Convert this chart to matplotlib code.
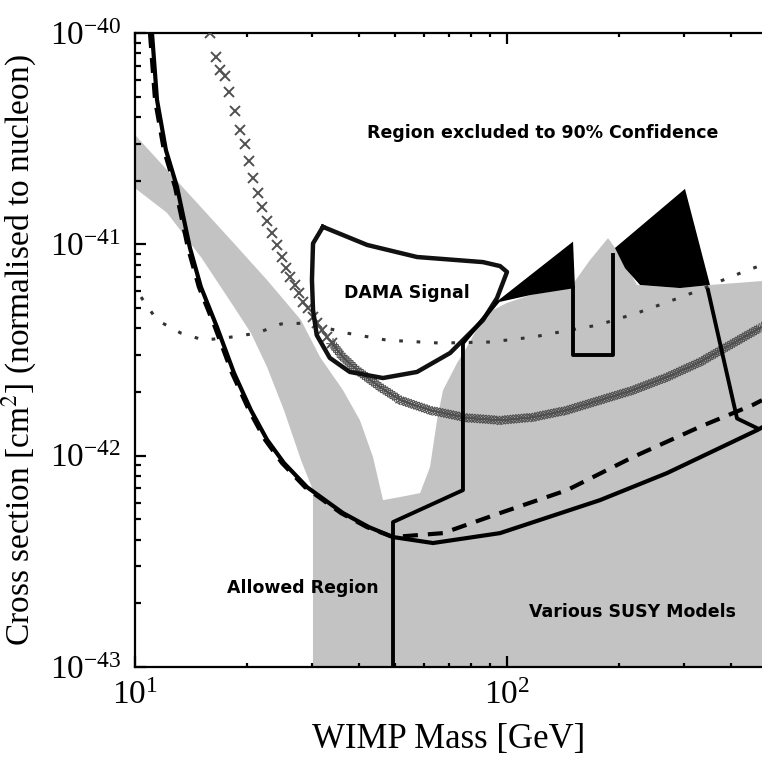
import matplotlib
matplotlib.use('Agg')
import matplotlib.pyplot as plt
import matplotlib.patheffects as pe

plt.rcParams['font.family'] = ['Liberation Serif', 'DejaVu Serif']
plt.rcParams['mathtext.fontset'] = 'stix'

# WIMP mass in GeV, cross section in cm^2 (normalised to nucleon)

# solid exclusion limit
limit_mass = [11.11, 11.46, 12.11, 12.97, 14.05, 15.04, 16.61, 18.46, 20.50, 22.64,
              25.15, 29.00, 36.24, 42.56, 49.38, 63.25, 95.76, 177.8, 269.2, 470.0, 484.7]
limit_xsec = [1.0e-40, 4.82e-41, 2.79e-41, 1.87e-41, 9.61e-42, 6.28e-42, 4.06e-42, 2.46e-42,
              1.64e-42, 1.19e-42, 9.23e-43, 7.10e-43, 5.35e-43, 4.59e-43, 4.12e-43, 3.86e-43,
              4.30e-43, 6.16e-43, 8.27e-43, 1.32e-42, 1.36e-42]

# dashed exclusion limit
dashed_mass = [10.97, 11.32, 11.96, 12.81, 13.88, 14.85, 16.40, 18.23, 20.25, 22.36,
               24.84, 28.64, 35.79, 42.03, 49.38, 67.29, 95.76, 145.0, 218.1, 330.3, 458.5, 484.7]
dashed_xsec = [1.0e-40, 4.82e-41, 2.79e-41, 1.87e-41, 9.61e-42, 6.28e-42, 4.06e-42, 2.46e-42,
               1.64e-42, 1.19e-42, 9.23e-43, 7.10e-43, 5.35e-43, 4.59e-43, 4.12e-43, 4.30e-43,
               5.35e-43, 6.87e-43, 9.85e-43, 1.37e-42, 1.74e-42, 1.83e-42]

# dotted limit
dotted_mass = [10.38, 11.46, 13.29, 15.33, 18.12, 21.28, 24.69, 29.00, 37.15, 47.58, 66.06,
               90.0, 117.5, 138.8, 175.6, 223.7, 279.4, 330.3, 380.7, 444.5, 484.7]
dotted_xsec = [5.63e-42, 4.38e-42, 3.80e-42, 3.52e-42, 3.64e-42, 3.80e-42, 4.20e-42, 4.24e-42,
               3.80e-42, 3.52e-42, 3.41e-42, 3.45e-42, 3.64e-42, 3.85e-42, 4.15e-42, 4.73e-42,
               5.45e-42, 6.08e-42, 6.78e-42, 7.56e-42, 7.98e-42]

# crossed limit, individual points at low mass
cross_mass = [15.91, 16.51, 16.92, 17.46, 17.89, 18.57, 19.13, 19.72, 20.22, 20.73, 21.38,
              21.95, 22.63, 23.34, 24.07, 24.82, 25.44, 26.07, 26.88, 27.56, 28.25, 29.14,
              30.05, 30.80, 31.76, 32.75, 33.77]
cross_xsec = [1.00e-40, 7.69e-41, 6.68e-41, 6.26e-41, 5.26e-41, 4.28e-41, 3.47e-41, 2.99e-41,
              2.48e-41, 2.06e-41, 1.75e-41, 1.50e-41, 1.29e-41, 1.13e-41, 9.92e-42, 8.71e-42,
              7.73e-42, 7.00e-42, 6.42e-42, 5.89e-42, 5.34e-42, 5.00e-42, 4.53e-42, 4.25e-42,
              3.93e-42, 3.64e-42, 3.41e-42]
# crossed limit, dense part
cross_band_mass = [33.77, 36.2, 39.5, 45.6, 51.7, 62.1, 78.0, 95.8, 117.6, 144.8, 178.0,
                   218.0, 269.0, 330.0, 406.0, 483.0]
cross_band_xsec = [3.41e-42, 2.93e-42, 2.54e-42, 2.11e-42, 1.83e-42, 1.64e-42, 1.51e-42,
                   1.47e-42, 1.52e-42, 1.64e-42, 1.83e-42, 2.04e-42, 2.35e-42, 2.77e-42,
                   3.41e-42, 4.06e-42]

# DAMA signal contour
dama_mass = [32.0, 30.1, 29.9, 30.1, 30.8, 33.4, 37.8, 46.4, 57.3, 70.3, 86.2, 94.0, 100.0,
             95.8, 86.2, 57.3, 42.1, 32.0]
dama_xsec = [1.21e-41, 1.01e-41, 6.78e-42, 4.89e-42, 3.72e-42, 2.90e-42, 2.49e-42, 2.33e-42,
             2.49e-42, 3.06e-42, 4.38e-42, 5.57e-42, 7.40e-42, 7.89e-42, 8.24e-42, 8.71e-42,
             9.93e-42, 1.21e-41]

# SUSY models region
susy_mass = [9.9, 12.19, 15.04, 18.46, 22.64, 27.94, 31.43, 36.24, 40.25, 43.63, 46.42,
             51.56, 58.39, 62.09, 64.84, 67.29, 73.38, 78.06, 84.61, 91.71, 100.0, 115.3,
             147.7, 167.2, 186.9, 201.3, 223.7, 291.8, 351.3, 600.0, 600.0,
             30.09, 30.09, 27.94, 25.15, 22.64, 20.50, 18.46, 15.04, 12.19, 9.9]
susy_xsec = [3.36e-41, 2.25e-41, 1.50e-41, 1.01e-41, 6.78e-42, 4.38e-42, 2.93e-42, 2.04e-42,
             1.47e-42, 9.85e-43, 6.16e-43, 6.37e-43, 6.65e-43, 8.83e-43, 1.47e-42, 2.04e-42,
             2.74e-42, 3.27e-42, 4.24e-42, 4.89e-42, 5.28e-42, 5.75e-42, 6.21e-42, 8.43e-42,
             1.07e-41, 8.90e-42, 6.42e-42, 6.21e-42, 6.42e-42, 6.9e-42, 5e-44,
             5e-44, 6.87e-43, 9.53e-43, 1.64e-42, 2.63e-42, 3.80e-42, 5.05e-42, 8.71e-42,
             1.41e-41, 1.87e-41]

# black excluded peaks
peak1_mass = [92.85, 150.5, 152.3, 115.3]
peak1_xsec = [5.28e-42, 1.03e-41, 6.21e-42, 5.75e-42]
peak2_mass = [195.1, 300.9, 351.3, 291.8, 227.9, 207.6]
peak2_xsec = [9.61e-42, 1.83e-41, 6.42e-42, 6.21e-42, 6.42e-42, 7.72e-42]

# other limit lines
line1_mass = [49.38, 49.38, 76.14, 76.14, 93.99]
line1_xsec = [5e-44, 4.85e-43, 6.87e-43, 3.41e-42, 5.33e-42]
line2_mass = [150.5, 150.5, 192.8, 192.8]
line2_xsec = [6.21e-42, 2.99e-42, 2.99e-42, 8.90e-42]
line3_mass = [346.9, 415.3, 470.0]
line3_xsec = [6.08e-42, 1.50e-42, 1.35e-42]

x_ticks = [10, 100]
y_ticks = [1e-43, 1e-42, 1e-41, 1e-40]

fig = plt.figure(figsize=(7.62, 7.66), dpi=100)
ax = fig.add_axes([135 / 762, 99 / 766, 627 / 762, 634 / 766])
ax.set_xscale('log')
ax.set_yscale('log')

ax.fill(susy_mass, susy_xsec, color='#c3c3c3', lw=0, zorder=1)
ax.fill(peak1_mass, peak1_xsec, color='black', lw=0, zorder=2)
ax.fill(peak2_mass, peak2_xsec, color='black', lw=0, zorder=2)

ax.plot(dotted_mass, dotted_xsec, color='#333333', lw=2.2, linestyle=(0, (1.2, 4.5)), zorder=3)

ax.plot(cross_mass, cross_xsec, linestyle='none', marker='x', ms=7, mew=1.4,
        color='#505050', zorder=3)
ticks = [pe.withTickedStroke(spacing=2.0, angle=a, length=2.0) for a in (45, 135, -45, -135)]
ax.plot(cross_band_mass, cross_band_xsec, color='#505050', lw=0.8, path_effects=ticks, zorder=3)

ax.plot(dama_mass, dama_xsec, color='#111111', lw=3.2, solid_joinstyle='round', zorder=4)
for m, s in [(line1_mass, line1_xsec), (line2_mass, line2_xsec), (line3_mass, line3_xsec)]:
    ax.plot(m, s, color='black', lw=2.8, zorder=4)

ax.plot(limit_mass, limit_xsec, color='black', lw=3, zorder=5)
ax.plot(dashed_mass, dashed_xsec, color='black', lw=3, linestyle=(0, (3.6, 2.4)), zorder=5)

txt = dict(family='DejaVu Sans', weight='bold', fontsize=12.5, ha='center', va='center',
           transform=ax.transAxes, zorder=6)
ax.text(0.651, 0.842, 'Region excluded to 90% Confidence', **txt)
ax.text(0.433, 0.590, 'DAMA Signal', **txt)
ax.text(0.268, 0.125, 'Allowed Region', **txt)
ax.text(0.793, 0.087, 'Various SUSY Models', **txt)

ax.set_xlim(10, 484.7)
ax.set_ylim(1e-43, 1e-40)
ax.set_xticks(x_ticks)
ax.set_yticks(y_ticks)
ax.set_xlabel('WIMP Mass [GeV]', fontsize=25, labelpad=8)
ax.set_ylabel('Cross section [cm$^2$] (normalised to nucleon)', fontsize=24, labelpad=8)

ax.spines['right'].set_visible(False)
for s in ('left', 'top', 'bottom'):
    ax.spines[s].set_linewidth(1.6)
ax.tick_params(which='both', direction='in', top=True, right=False, width=1.6)
ax.tick_params(which='major', length=8, labelsize=24, pad=10)
ax.tick_params(which='minor', length=4)
ax.tick_params(axis='x', which='minor', length=3)

fig.savefig('out.png', dpi=100)
